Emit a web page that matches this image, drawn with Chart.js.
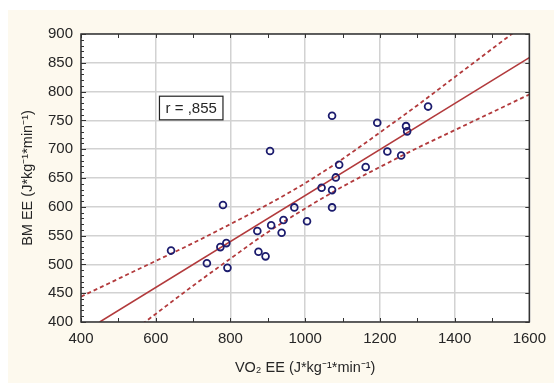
<!DOCTYPE html>
<html lang="en">
<head>
  <meta charset="UTF-8" />
  <title>BM EE vs VO2 EE</title>
  <script src="https://cdn.jsdelivr.net/npm/chart.js"></script>
  <style>
    html, body {
      margin: 0;
      padding: 0;
      background: #ffffff;
    }
    #wrap {
      width: 554px;
      height: 383px;
    }
  </style>
</head>
<body>
  <div id="wrap"><canvas id="chart" width="554" height="383"></canvas></div>

  <script>
    const vo2EE = [641, 737, 773, 780, 789, 792, 872, 875, 894, 906, 909, 937, 942, 971,
                   1005, 1044, 1072, 1072, 1072, 1082, 1091, 1162, 1193, 1220, 1257, 1270, 1273, 1329];
    const bmEE  = [524, 502, 530, 603, 537, 494, 558, 522, 514, 697, 568, 555, 577, 599,
                   575, 633, 758, 629, 599, 651, 673, 669, 746, 696, 689, 740, 731, 774];

    // regression line end points
    const fitX = [450, 1600];
    const fitY = [400, 859];

    // 95% confidence band, read at each 100 units
    const bandX     = [400, 500, 600, 700, 800, 900, 1000, 1100, 1200, 1300, 1400, 1500, 1600];
    const bandUpper = [444, 475, 506, 537, 570, 604, 641, 683, 729, 776, 825, 874, 923];
    const bandLower = [316, 365, 414, 463, 510, 556, 597, 635, 669, 702, 733, 764, 795];

    const xTicks = [400, 600, 800, 1000, 1200, 1400, 1600];
    const yTicks = [400, 450, 500, 550, 600, 650, 700, 750, 800, 850, 900];

    const rText = "r = ,855";
    const rBox = { x0: 610, x1: 780, y0: 751, y1: 792 };

    const red = "#b23a3c";
    const navy = "#1c1c6e";
    const textCol = "#262626";
    const fontFam = "Arial, 'Liberation Sans', sans-serif";

    const pairs = (xs, ys) => xs.map((x, i) => ({ x: x, y: ys[i] }));

    // cream panel behind the whole figure
    const panel = {
      id: "panel",
      beforeDraw(chart) {
        const ctx = chart.ctx;
        ctx.save();
        ctx.fillStyle = "#fdf9ee";
        ctx.fillRect(8, 10, chart.width - 8, chart.height - 10);
        const a = chart.chartArea;
        ctx.fillStyle = "#ffffff";
        ctx.fillRect(a.left, a.top, a.right - a.left, a.bottom - a.top);
        ctx.restore();
      }
    };

    // frame, small inward ticks and the r label
    const frame = {
      id: "frame",
      afterDatasetsDraw(chart) {
        const ctx = chart.ctx;
        const a = chart.chartArea;
        const xs = chart.scales.x, ys = chart.scales.y;
        ctx.save();
        ctx.strokeStyle = "#333333";
        ctx.lineWidth = 1.5;
        ctx.strokeRect(a.left, a.top, a.right - a.left, a.bottom - a.top);

        ctx.lineWidth = 1;
        ctx.beginPath();
        for (let v = 400; v <= 1600; v += 100) {
          const px = Math.round(xs.getPixelForValue(v)) + 0.5;
          ctx.moveTo(px, a.bottom); ctx.lineTo(px, a.bottom - 4);
          ctx.moveTo(px, a.top); ctx.lineTo(px, a.top + 4);
        }
        for (let v = 400; v <= 900; v += 10) {
          const py = Math.round(ys.getPixelForValue(v)) + 0.5;
          const len = v % 50 === 0 ? 5 : 3;
          ctx.moveTo(a.left, py); ctx.lineTo(a.left + len, py);
          if (v % 50 === 0) { ctx.moveTo(a.right, py); ctx.lineTo(a.right - 4, py); }
        }
        ctx.stroke();

        // r label box
        const bx0 = xs.getPixelForValue(rBox.x0), bx1 = xs.getPixelForValue(rBox.x1);
        const by0 = ys.getPixelForValue(rBox.y1), by1 = ys.getPixelForValue(rBox.y0);
        ctx.fillStyle = "#ffffff";
        ctx.fillRect(bx0, by0, bx1 - bx0, by1 - by0);
        ctx.strokeStyle = "#222222";
        ctx.lineWidth = 1.2;
        ctx.strokeRect(bx0, by0, bx1 - bx0, by1 - by0);
        ctx.fillStyle = textCol;
        ctx.font = "15px " + fontFam;
        ctx.textAlign = "center";
        ctx.textBaseline = "middle";
        ctx.fillText(rText, (bx0 + bx1) / 2, (by0 + by1) / 2 + 1);
        ctx.restore();
      }
    };

    new Chart(document.getElementById("chart"), {
      type: "scatter",
      data: {
        datasets: [
          {
            label: "points",
            data: pairs(vo2EE, bmEE),
            pointStyle: "circle",
            pointRadius: 3.4,
            pointBorderWidth: 1.8,
            pointBorderColor: navy,
            pointBackgroundColor: "rgba(0,0,0,0)",
            order: 0
          },
          {
            label: "fit",
            data: pairs(fitX, fitY),
            showLine: true,
            pointRadius: 0,
            borderColor: red,
            borderWidth: 1.6,
            order: 1
          },
          {
            label: "upper",
            data: pairs(bandX, bandUpper),
            showLine: true,
            pointRadius: 0,
            borderColor: red,
            borderWidth: 1.8,
            borderDash: [4, 3],
            cubicInterpolationMode: "monotone",
            order: 2
          },
          {
            label: "lower",
            data: pairs(bandX, bandLower),
            showLine: true,
            pointRadius: 0,
            borderColor: red,
            borderWidth: 1.8,
            borderDash: [4, 3],
            cubicInterpolationMode: "monotone",
            order: 2
          }
        ]
      },
      options: {
        responsive: false,
        animation: false,
        events: [],
        layout: { padding: { top: 34, right: 21, bottom: 0, left: 0 } },
        plugins: {
          legend: { display: false },
          tooltip: { enabled: false }
        },
        scales: {
          x: {
            type: "linear",
            min: 400,
            max: 1600,
            afterBuildTicks: s => { s.ticks = xTicks.map(v => ({ value: v })); },
            afterFit: s => { s.height = 61; },
            grid: { color: "#d2d2d2", lineWidth: 1.5, drawTicks: false },
            border: { display: false },
            ticks: {
              padding: 8,
              color: textCol,
              font: { family: fontFam, size: 15 },
              callback: v => String(v)
            },
            title: {
              display: true,
              text: "VO\u2082 EE (J*kg\u207B\u00B9*min\u207B\u00B9)",
              color: textCol,
              font: { family: fontFam, size: 14.5 },
              padding: { top: 0, bottom: 6 }
            }
          },
          y: {
            type: "linear",
            min: 400,
            max: 900,
            afterBuildTicks: s => { s.ticks = yTicks.map(v => ({ value: v })); },
            afterFit: s => { s.width = 81; },
            grid: { color: "#d2d2d2", lineWidth: 1.5, drawTicks: false },
            border: { display: false },
            ticks: {
              padding: 8,
              color: textCol,
              font: { family: fontFam, size: 15 },
              callback: v => String(v)
            },
            title: {
              display: true,
              text: "BM EE (J*kg\u207B\u00B9*min\u207B\u00B9)",
              color: textCol,
              font: { family: fontFam, size: 14.5 },
              padding: { top: 19, bottom: 0 }
            }
          }
        }
      },
      plugins: [panel, frame]
    });
  </script>
</body>
</html>
